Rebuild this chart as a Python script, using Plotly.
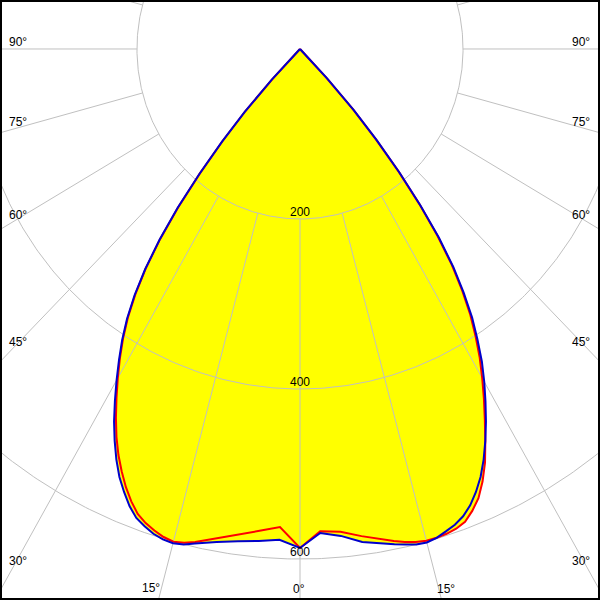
import numpy as np
import plotly.graph_objects as go

# ---- data ----
gamma = [0, 2.5, 5, 7.5, 10, 11.25, 12.5, 13.75, 15, 16.25, 17.5, 18.75, 20, 21.25, 22.5,
         23.75, 25, 26.25, 27.5, 28.75, 30, 31.25, 32.5, 33.75, 35, 36.25, 37.5, 38.75,
         40, 41.25, 42.5, 43.75, 45, 90, 180]
red_right = [587, 568, 570, 578, 586, 590, 594, 597, 599, 599, 598, 596, 592, 583, 572,
             556, 537, 514, 491, 469, 447, 425, 401, 376, 347, 315, 277, 234,
             188, 141, 96, 47, 0, 0, 0]
red_left = [587, 563, 569, 576, 585, 589, 594, 598, 600, 598, 594, 589, 582, 571, 558,
            543, 527, 509, 489, 468, 447, 426, 404, 380, 352, 320, 282, 239,
            191, 144, 99, 49, 0, 0, 0]
blue_right = [587, 570, 575, 585, 591, 594, 597, 600, 601, 599, 595, 591, 585, 576, 564,
              550, 533, 514, 494, 473, 452, 430, 405, 380, 350, 318, 280, 236,
              190, 143, 98, 48, 0, 0, 0]
blue_left = [587, 578, 581, 584, 589, 592, 596, 600, 602, 601, 598, 593, 587, 577, 564,
             550, 533, 514, 494, 472, 450, 428, 406, 382, 354, 321, 283, 240,
             192, 145, 100, 50, 0, 0, 0]

radial_ticks = [200, 400, 600]
radial_grid = [200, 400, 600, 800]
angle_grid = list(range(-180, 181, 15))
angle_labels = ["90°", "75°", "60°", "45°", "30°", "15°", "0°"]

# ---- helpers ----
def curve(left, right):
    g = np.radians(np.array(gamma, dtype=float))
    L = np.array(left, dtype=float)
    R = np.array(right, dtype=float)
    xl = -L * np.sin(g)
    yl = -L * np.cos(g)
    xr = R * np.sin(g)
    yr = -R * np.cos(g)
    x = np.concatenate([xl[::-1], xr[1:]])
    y = np.concatenate([yl[::-1], yr[1:]])
    return x, y

fig = go.Figure()

rx, ry = curve(red_left, red_right)
bx, by = curve(blue_left, blue_right)

YELLOW = "#ffff00"
for (x, y) in [(rx, ry), (bx, by)]:
    fig.add_trace(go.Scatter(x=x, y=y, mode="lines", fill="toself", fillcolor=YELLOW,
                             line=dict(width=0, color=YELLOW), hoverinfo="skip"))

# grid: circles
gx, gy = [], []
t = np.linspace(0, 2 * np.pi, 721)
for r in radial_grid:
    gx += list(r * np.sin(t)) + [None]
    gy += list(r * np.cos(t)) + [None]
# grid: radial lines starting at first circle
for a in angle_grid:
    ar = np.radians(a)
    gx += [200 * np.sin(ar), 1200 * np.sin(ar), None]
    gy += [-200 * np.cos(ar), -1200 * np.cos(ar), None]
fig.add_trace(go.Scatter(x=gx, y=gy, mode="lines", line=dict(color="#c0c0c0", width=1),
                         hoverinfo="skip"))

fig.add_trace(go.Scatter(x=rx, y=ry, mode="lines", line=dict(color="#ff0000", width=2),
                         hoverinfo="skip"))
fig.add_trace(go.Scatter(x=bx, y=by, mode="lines", line=dict(color="#0000cc", width=2),
                         hoverinfo="skip"))

FONT = dict(family="Liberation Sans, Arial, sans-serif", size=12, color="black")
ann = []
for r in radial_ticks:
    ann.append(dict(x=0, y=-r, xref="x", yref="y", text=str(r), showarrow=False,
                    yshift=7, font=FONT, xanchor="center", yanchor="middle"))

W = H = 600
left_pos = [(18, 42), (18, 122), (18, 215), (18, 342), (18, 561), (151, 588), (299, 589)]
right_pos = [(581, 42), (581, 122), (581, 215), (581, 342), (581, 561), (446, 589)]
for lab, (px, py) in zip(angle_labels, left_pos):
    ann.append(dict(x=px / W, y=1 - py / H, xref="paper", yref="paper", text=lab,
                    showarrow=False, font=FONT, xanchor="center", yanchor="middle"))
for lab, (px, py) in zip(angle_labels[:-1], right_pos):
    ann.append(dict(x=px / W, y=1 - py / H, xref="paper", yref="paper", text=lab,
                    showarrow=False, font=FONT, xanchor="center", yanchor="middle"))

fig.update_layout(
    width=W, height=H,
    margin=dict(l=0, r=0, t=0, b=0),
    paper_bgcolor="white", plot_bgcolor="white",
    showlegend=False,
    xaxis=dict(range=[-368, 368], visible=False, showgrid=False, zeroline=False, fixedrange=True),
    yaxis=dict(range=[-648.2, 57.6], visible=False, showgrid=False, zeroline=False, fixedrange=True),
    annotations=ann,
    shapes=[dict(type="rect", xref="paper", yref="paper", x0=0, y0=0, x1=1, y1=1,
                 line=dict(color="black", width=4), layer="above")],
)

fig.write_html("out.html", config={"displayModeBar": False},
               post_script="document.body.style.margin='0';document.body.style.overflow='hidden';")
